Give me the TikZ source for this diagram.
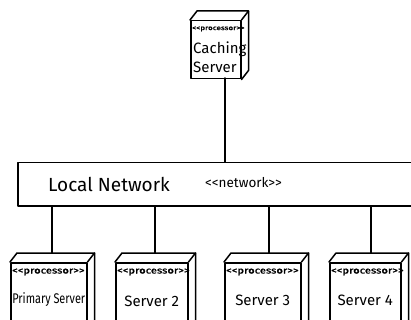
\documentclass[tikz,border=0pt]{standalone}
\usepackage{fontspec}
\setmainfont{Fira Sans}
\newfontfamily\tagfont{Fira Sans}[FakeStretch=1.25, FakeBold=1.5]
\newfontfamily\narrowfont{Fira Sans}[FakeStretch=0.78]
\usetikzlibrary{calc}

% guillemet-style stereotype text, kept as two separate angle brackets
\newcommand{\stereo}[1]{<\kern0pt<#1>\kern0pt>}

% top and side faces of a 3D processor block, drawn off its front face node
\newcommand{\blockfaces}[1]{%
  \draw[ink] (#1.north west) -- ++(7,-9) -- ($(#1.north east)+(7,-9)$) -- (#1.north east);
  \draw[ink] ($(#1.north east)+(7,-9)$) -- ($(#1.south east)+(7,-9)$) -- (#1.south east);
}

\begin{document}
\begin{tikzpicture}[x=1pt,y=-1pt,
  ink/.style={line width=1.5pt, line join=round, line cap=round},
  front/.style={ink, draw, rectangle, inner sep=0pt, anchor=north west},
  tag/.style={font=\tagfont\fontsize{9}{10}\selectfont, anchor=west, inner sep=0pt},
  cname/.style={font=\fontsize{15}{17}\selectfont, anchor=west, inner sep=0pt},
  sname/.style={font=\fontsize{15}{17}\selectfont, inner sep=0pt},
  wire/.style={ink}]
\useasboundingbox (0,0) rectangle (411,320);
\clip (0,0) rectangle (411,320);

% caching server
\node[front, minimum width=50pt, minimum height=58pt] (cache) at (190,20) {};
\blockfaces{cache}
\node[tag, font=\tagfont\fontsize{6.5}{8}\selectfont] (cache-tag) at ($(cache.north west)+(2,9)$) {\stereo{processor}};
\node[cname] (cache-l1) at ($(cache.north west)+(3,29)$) {Caching};
\node[cname] (cache-l2) at ($(cache.north west)+(3,47)$) {Server};

% local network bar
\node[ink, draw, rectangle, anchor=north west, minimum width=400pt, minimum height=43pt, inner sep=0pt] (net) at (17,162) {};
\node[font=\fontsize{19}{21}\selectfont, anchor=west, inner sep=0pt] (net-name) at (48,184) {Local Network};
\node[font=\fontsize{13.5}{15}\selectfont, anchor=west, inner sep=0pt] (net-tag) at (205,183) {\stereo{network}};

% processors on the network
\node[front, minimum width=76pt, minimum height=70pt] (p1) at (10,262) {};
\node[front, minimum width=72pt, minimum height=70pt] (p2) at (115,262) {};
\node[front, minimum width=76pt, minimum height=70pt] (p3) at (224,262) {};
\node[front, minimum width=71pt, minimum height=70pt] (p4) at (329,262) {};
\blockfaces{p1}
\blockfaces{p2}
\blockfaces{p3}
\blockfaces{p4}

\foreach \p in {p1,p2,p3,p4}{
  \node[tag] (\p-tag) at ($(\p.north west)+(2,10)$) {\stereo{processor}};
}
\node[sname, font=\narrowfont\fontsize{14}{16}\selectfont] (p1-name) at ($(p1.north)+(0,38)$) {Primary Server};
\node[sname] (p2-name) at ($(p2.north)+(0,39)$) {Server 2};
\node[sname] (p3-name) at ($(p3.north)+(0,38)$) {Server 3};
\node[sname] (p4-name) at ($(p4.north)+(0,38)$) {Server 4};

% connectors
\coordinate (cache-foot) at (225,78);
\draw[wire] (cache-foot) -- (cache-foot |- net.north);
\coordinate (p1-top) at (52,253);
\coordinate (p2-top) at (155,253);
\coordinate (p3-top) at (269,253);
\coordinate (p4-top) at (371,253);
\foreach \p in {p1,p2,p3,p4}{
  \draw[wire] (\p-top |- net.south) -- (\p-top);
}
\end{tikzpicture}
\end{document}
